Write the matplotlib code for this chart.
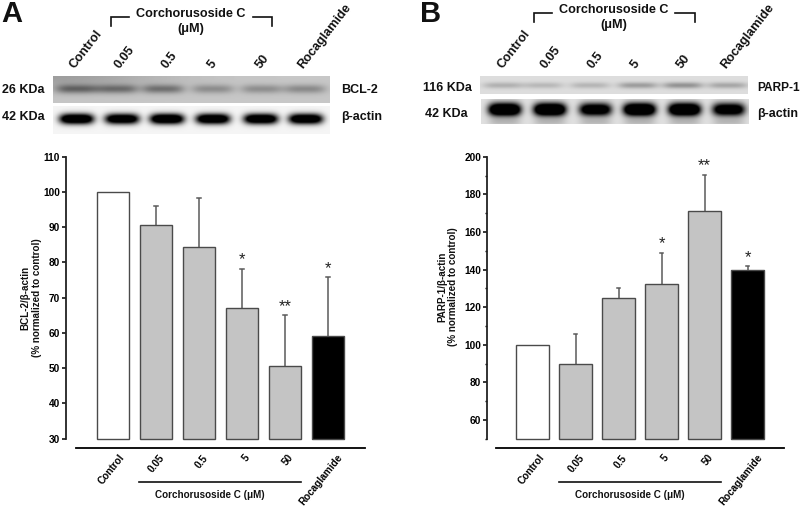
import numpy as np
import matplotlib
matplotlib.use("Agg")
import matplotlib.pyplot as plt
from matplotlib.transforms import ScaledTranslation

plt.rcParams['font.family'] = ['Liberation Sans', 'DejaVu Sans']
plt.rcParams['font.weight'] = 'bold'

categories = ['Control', '0.05', '0.5', '5', '50', 'Rocaglamide']
group_label = 'Corchorusoside C (μM)'

bcl2_values = [100, 90.6, 84.5, 67, 50.5, 59.2]
bcl2_tops = [None, 96, 98.3, 78.2, 65, 75.8]
bcl2_stars = ['', '', '', '*', '**', '*']
bcl2_ticks = [30, 40, 50, 60, 70, 80, 90, 100, 110]

parp_values = [100, 90, 124.8, 132.5, 171.3, 139.5]
parp_tops = [None, 105.5, 130, 148.8, 190.5, 141.8]
parp_stars = ['', '', '', '*', '**', '*']
parp_ticks = [60, 80, 100, 120, 140, 160, 180, 200]
parp_minor = [50, 70, 90, 110, 130, 150, 170, 190]

# blot band strengths (0..1) read by eye
bcl2_bands = [0.34, 0.32, 0.32, 0.22, 0.22, 0.24]
bcl2_actin = [1.5, 1.4, 1.5, 1.45, 1.45, 1.45]
parp_bands = [0.18, 0.15, 0.16, 0.26, 0.30, 0.22]
parp_actin = [1.6, 1.6, 1.3, 1.6, 1.6, 1.3]

W, H = 800, 508
fig = plt.figure(figsize=(W / 100, H / 100), dpi=100)
fill_grey = '#c4c4c4'
edge = '#4a4a4a'


def px_axes(x0, y0, x1, y1):
    return fig.add_axes([x0 / W, 1 - y1 / H, (x1 - x0) / W, (y1 - y0) / H])


def blot(x0, y0, x1, y1, centres, strengths, halfw, halfh, bg, cy=0.5, smear=0.0, grad=0.0):
    ax = px_axes(x0, y0, x1, y1)
    nx, ny = int(x1 - x0) * 2, int(y1 - y0) * 2
    xs = np.linspace(x0, x1, nx)
    ys = np.linspace(0, 1, ny) * (y1 - y0)
    X, Y = np.meshgrid(xs, ys)
    img = np.full(X.shape, float(bg))
    img -= grad * np.exp(-((X - x0) / 110.0) ** 2) * np.exp(-(Y / 14.0) ** 2)
    for c, s in zip(centres, strengths):
        u = (X - c) / halfw
        v = (Y - cy * (y1 - y0)) / halfh
        shape = np.exp(-u ** 4) * np.exp(-v ** 2)
        img -= s * shape
        if smear:
            v2 = (Y - (cy * (y1 - y0) + 2.0 * halfh)) / (halfh * 0.6)
            img -= smear * np.exp(-u ** 4) * np.exp(-v2 ** 2)
    ax.imshow(np.clip(img, 0, 1), cmap='gray', vmin=0, vmax=1, aspect='auto',
              interpolation='bilinear')
    ax.axis('off')
    return ax


def panel(x0, xfirst, yticks, minor, values, tops, stars, ylim, line_x):
    ax = px_axes(x0, 156.7, x0 + 310, 438.7)
    pitch = 43.0
    x = np.arange(len(values))
    ax.set_xlim((x0 - xfirst) / pitch, (x0 + 310 - xfirst) / pitch)
    ax.set_ylim(*ylim)
    colors = ['white', fill_grey, fill_grey, fill_grey, fill_grey, 'black']
    ax.bar(x, np.array(values) - ylim[0], bottom=ylim[0], width=32.5 / pitch,
           color=colors, edgecolor=edge, linewidth=1.0, clip_on=False, zorder=3)
    for i, (v, t, s) in enumerate(zip(values, tops, stars)):
        if t is not None:
            ax.plot([i, i], [v, t], color='#5a5a5a', lw=1.1, zorder=2, solid_capstyle='butt')
            ax.plot([i - 0.045, i + 0.045], [t, t], color='#5a5a5a', lw=1.1, zorder=2)
        if s:
            ax.annotate(s, xy=(i, t), xytext=(0, 1.0), textcoords='offset points',
                        ha='center', va='bottom', fontsize=12, fontweight='normal',
                        color='#222222')
    ax.spines['top'].set_visible(False)
    ax.spines['right'].set_visible(False)
    ax.spines['left'].set_linewidth(1.3)
    ax.spines['left'].set_color('#222222')
    ax.spines['bottom'].set_position(('outward', 6.5))
    ax.spines['bottom'].set_linewidth(1.3)
    ax.spines['bottom'].set_bounds((line_x[0] - xfirst) / pitch, (line_x[1] - xfirst) / pitch)
    ax.set_yticks(yticks)
    if minor:
        ax.set_yticks(minor, minor=True)
    ax.tick_params(axis='y', which='major', length=3.2, width=1.1, pad=1.2, labelsize=7.3)
    ax.tick_params(axis='y', which='minor', length=1.8, width=1.0)
    ax.set_xticks(x)
    ax.set_xticklabels(categories, rotation=51, ha='right', rotation_mode='anchor', fontsize=7.2)
    ax.tick_params(axis='x', length=0, pad=3.5)
    shifts = [6, 3, 3, 2, 3, 9]
    for lab, sh in zip(ax.get_xticklabels(), shifts):
        lab.set_transform(lab.get_transform() +
                          ScaledTranslation(sh / 100, 0, fig.dpi_scale_trans))
    ax.patch.set_alpha(0)
    return ax


panel(66, 113, bcl2_ticks, None, bcl2_values, bcl2_tops, bcl2_stars, (30, 110), (76, 365))
panel(487.3, 532.5, parp_ticks, parp_minor, parp_values, parp_tops, parp_stars, (50, 200), (496, 784))

a_centres = [77, 117, 163, 213, 262, 305]
a_actin_centres = [76.5, 122, 167, 213, 261, 306]
b_centres = [503, 543, 590, 638, 683, 728]
b_actin_centres = [504.5, 549.5, 595, 639, 684, 728]
blot(53, 76, 330, 103, a_centres, bcl2_bands, 21, 4.5, 0.78, cy=0.48, grad=0.16)
blot(53, 106, 330, 134, a_actin_centres, bcl2_actin, 17, 5.2, 0.96, cy=0.46)
blot(480, 76, 748, 94, b_centres, parp_bands, 20, 3.2, 0.87, cy=0.52)
blot(481, 99, 748, 124, b_actin_centres, parp_actin, 16, 6.5, 0.88, cy=0.42, smear=0.14)

ov = fig.add_axes([0, 0, 1, 1])
ov.set_xlim(0, W)
ov.set_ylim(H, 0)
ov.axis('off')
ov.patch.set_alpha(0)


def T(x, y, s, size, ha='left', va='center', **kw):
    ov.text(x, y, s, fontsize=size, ha=ha, va=va, color='#111111', **kw)


def bracket(a, b, c, d, y, drop):
    ov.plot([a, a, b], [y + drop, y, y], color='#111111', lw=1.2, solid_joinstyle='miter')
    ov.plot([c, d, d], [y, y, y + drop], color='#111111', lw=1.2, solid_joinstyle='miter')


T(1, 21.5, 'A', 21, va='baseline')
T(420, 21.5, 'B', 21, va='baseline')

bracket(110.7, 128.7, 252.7, 272, 16.7, 9.3)
T(191, 14, 'Corchorusoside C', 9.1, ha='center')
T(191, 29, '(μM)', 9.1, ha='center')
bracket(534, 552, 675, 695, 12.7, 9)
T(614, 10, 'Corchorusoside C', 9.1, ha='center')
T(614, 25, '(μM)', 9.1, ha='center')

a_top = [72, 117, 164, 210, 258, 300]
b_top = [500, 543, 590, 633, 679, 723]
for xs in (a_top, b_top):
    for x, c in zip(xs, categories):
        T(x, 67.5, c, 9.1, rotation=52, rotation_mode='anchor')

T(2, 90, '26 KDa', 9)
T(2, 117, '42 KDa', 9)
T(341, 90, 'BCL-2', 9)
T(341, 117, 'β-actin', 9)
T(423, 88, '116 KDa', 9)
T(425, 114, '42 KDa', 9)
T(757, 88, 'PARP-1', 8.6)
T(757, 114, 'β-actin', 9)

T(31, 298, 'BCL-2/β-actin\n(% normalized to control)', 7.1, ha='center', rotation=90,
  multialignment='center', linespacing=1.15)
T(447.5, 287, 'PARP-1/β-actin\n(% normalized to control)', 7.1, ha='center', rotation=90,
  multialignment='center', linespacing=1.15)

ov.plot([139, 301], [482, 482], color='#111111', lw=1.2)
ov.plot([559, 721], [482, 482], color='#111111', lw=1.2)
T(210, 495, group_label, 7.1, ha='center')
T(630, 495, group_label, 7.1, ha='center')

fig.savefig('out.png', dpi=100)
